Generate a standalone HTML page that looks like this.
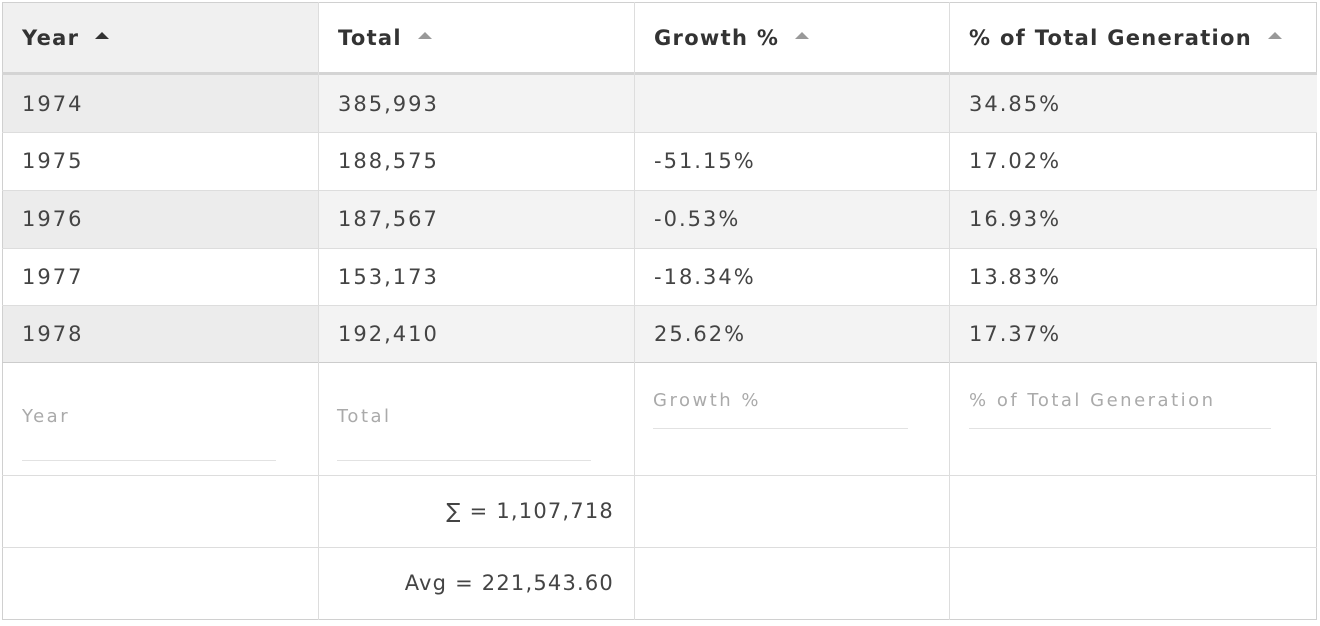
<!DOCTYPE html>
<html><head><meta charset="utf-8"><style>
body{margin:0;width:1320px;height:626px;background:#fff;font-family:"DejaVu Sans",sans-serif;position:relative;overflow:hidden}
.c{position:absolute;box-sizing:border-box;color:#444;font-size:21px;letter-spacing:2px;display:flex;align-items:center;padding-left:19px;white-space:nowrap}
.h{font-weight:bold;color:#333;font-size:21px;letter-spacing:1.3px}
.s{letter-spacing:1.2px}
.v{position:absolute;top:2px;width:1px;height:618px;background:#ddd}
.hl{position:absolute;left:2px;width:1315px;height:1px;background:#ddd}
.g{background:#f3f3f3}
.ph{position:absolute;color:#aaa;font-size:18px;letter-spacing:2.5px;white-space:nowrap}
.ul{position:absolute;height:1px;background:#e2e2e2}
.tri{display:inline-block;width:0;height:0;border-left:7px solid transparent;border-right:7px solid transparent;border-bottom:7px solid #999;margin-left:16px;margin-top:-4px}
</style></head><body>
<div style="position:absolute;left:2px;top:2px;width:1315px;height:618px;border:1px solid #d0d0d0;box-sizing:border-box"></div>
<div class="c h" style="left:3px;top:3px;width:315px;height:69px;background:#f0f0f0">Year<span class="tri" style="border-bottom-color:#333"></span></div>
<div class="c h" style="left:319px;top:3px;width:315px;height:69px">Total<span class="tri"></span></div>
<div class="c h" style="left:635px;top:3px;width:314px;height:69px">Growth %<span class="tri"></span></div>
<div class="c h" style="left:950px;top:3px;width:366px;height:69px">% of Total Generation<span class="tri"></span></div>
<div style="position:absolute;left:2px;top:72px;width:1315px;height:3px;background:#d4d4d4"></div>
<div class="g" style="position:absolute;left:3px;top:75px;width:1314px;height:57px"></div>
<div class="g" style="position:absolute;left:3px;top:190px;width:1314px;height:58px"></div>
<div class="g" style="position:absolute;left:3px;top:305px;width:1314px;height:57px"></div>
<div style="position:absolute;left:3px;top:75px;width:315px;height:57px;background:#ececec"></div>
<div style="position:absolute;left:3px;top:190px;width:315px;height:58px;background:#ececec"></div>
<div style="position:absolute;left:3px;top:305px;width:315px;height:57px;background:#ececec"></div>
<div class="hl" style="top:132px"></div><div class="hl" style="top:190px"></div><div class="hl" style="top:248px"></div><div class="hl" style="top:305px"></div><div class="hl" style="top:362px;background:#ccc"></div><div class="hl" style="top:475px"></div><div class="hl" style="top:547px"></div>
<div class="v" style="left:318px"></div><div class="v" style="left:634px"></div><div class="v" style="left:949px"></div>

<div class="c" style="left:3px;top:75px;height:57px">1974</div><div class="c" style="left:319px;top:75px;height:57px">385,993</div><div class="c" style="left:950px;top:75px;height:57px">34.85%</div>
<div class="c" style="left:3px;top:132px;height:58px">1975</div><div class="c" style="left:319px;top:132px;height:58px">188,575</div><div class="c" style="left:635px;top:132px;height:58px">-51.15%</div><div class="c" style="left:950px;top:132px;height:58px">17.02%</div>
<div class="c" style="left:3px;top:190px;height:58px">1976</div><div class="c" style="left:319px;top:190px;height:58px">187,567</div><div class="c" style="left:635px;top:190px;height:58px">-0.53%</div><div class="c" style="left:950px;top:190px;height:58px">16.93%</div>
<div class="c" style="left:3px;top:248px;height:57px">1977</div><div class="c" style="left:319px;top:248px;height:57px">153,173</div><div class="c" style="left:635px;top:248px;height:57px">-18.34%</div><div class="c" style="left:950px;top:248px;height:57px">13.83%</div>
<div class="c" style="left:3px;top:305px;height:57px">1978</div><div class="c" style="left:319px;top:305px;height:57px">192,410</div><div class="c" style="left:635px;top:305px;height:57px">25.62%</div><div class="c" style="left:950px;top:305px;height:57px">17.37%</div>

<div class="ph" style="left:22px;top:406px">Year</div><div class="ul" style="left:22px;top:460px;width:254px"></div>
<div class="ph" style="left:337px;top:406px">Total</div><div class="ul" style="left:337px;top:460px;width:254px"></div>
<div class="ph" style="left:653px;top:390px">Growth %</div><div class="ul" style="left:653px;top:428px;width:255px"></div>
<div class="ph" style="left:969px;top:390px">% of Total Generation</div><div class="ul" style="left:969px;top:428px;width:302px"></div>

<div class="c s" style="left:319px;top:475px;width:295px;height:72px;justify-content:flex-end;padding:0">∑ = 1,107,718</div>
<div class="c s" style="left:319px;top:547px;width:295px;height:72px;justify-content:flex-end;padding:0">Avg = 221,543.60</div>
</body></html>
